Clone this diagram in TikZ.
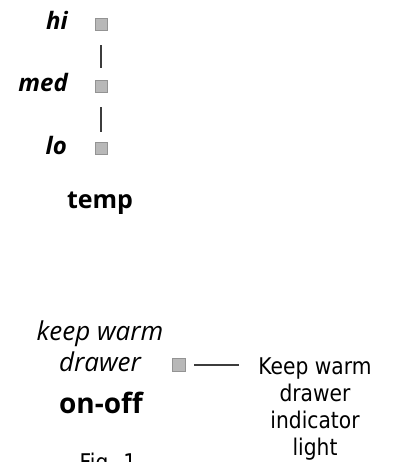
\documentclass[tikz,border=0pt]{standalone}
\usepackage{fontspec}
\usepackage{tikz}
\usetikzlibrary{positioning}
\setmainfont{Open Sans}
\newfontfamily\panelfont[FakeStretch=0.88]{DejaVu Sans}
\definecolor{lampgray}{HTML}{B8B8B8}
\definecolor{wire}{HTML}{3C3C3C}

\begin{document}
\begin{tikzpicture}[x=1pt, y=-1pt,
        every node/.style={inner sep=0pt},
        lamp/.style={rectangle, fill=lampgray, draw=lampgray!80!black,
          line width=0.4pt, minimum size=12pt},
        lvl/.style={font=\fontsize{24}{28}\selectfont\bfseries\itshape, anchor=base east},
        knob/.style={font=\fontsize{25}{30}\selectfont\bfseries, anchor=base},
        link/.style={draw=wire, line width=1.3pt}]
      \clip (0,0) rectangle (394,462);
      % temperature lamps
      \node[lamp] (hiL) at (101,24) {};
      \node[lamp] (medL) at (101,86) {};
      \node[lamp] (loL) at (101,148) {};
      \node[lvl] (hi) at (68,30) {hi};
      \node[lvl] (med) at (68,92) {med};
      \node[lvl] (lo) at (67,155) {lo};
      \draw[link, shorten <=15pt, shorten >=12pt] (hiL) -- (medL);
      \draw[link, shorten <=15pt, shorten >=10pt] (medL) -- (loL);
      \node[knob] (temp) at (100,208) {temp};
      % keep warm drawer
      \node[font=\fontsize{26}{31}\selectfont\itshape, align=center, anchor=north]
        (kw) at (100,321) {keep warm\\drawer};
      \node[knob, font=\fontsize{28}{32}\selectfont\bfseries] (onoff) at (101,413) {on-off};
      \node[lamp, minimum size=13pt] (kwL) at (178.5,365) {};
      \node[font=\fontsize{23}{27}\panelfont, align=center, anchor=north]
        (ind) at (315,358) {Keep warm\\drawer\\indicator\\light};
      \draw[link, shorten <=9pt, shorten >=19pt] (kwL) -- (kwL -| ind.west);
      \node[font=\fontsize{23}{27}\panelfont, anchor=north] (fig) at (108,453) {Fig. 1};
\end{tikzpicture}
\end{document}
